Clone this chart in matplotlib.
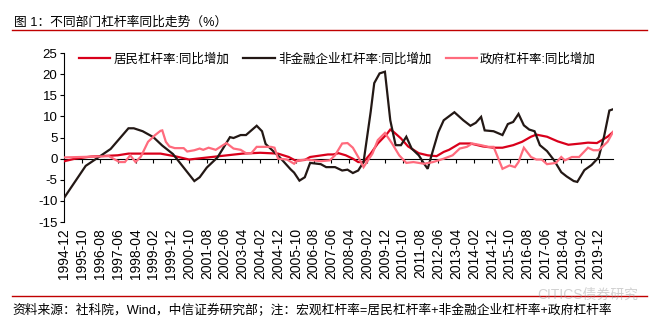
import matplotlib
matplotlib.use("Agg")
import matplotlib.pyplot as plt
from matplotlib.lines import Line2D

plt.rcParams["font.family"] = ["Liberation Sans", "Noto Sans CJK SC", "DejaVu Sans"]
plt.rcParams["axes.unicode_minus"] = False

# ── Data (yoy change in leverage, %) ────────────────────────────────
household_dates = [
    "1994-12", "1995-06", "1996-03", "1997-06", "1997-12", "1999-06", "2000-03",
    "2000-10", "2002-01", "2003-04", "2004-02", "2004-12", "2005-06", "2005-10",
    "2006-03", "2006-06", "2007-04", "2007-07", "2007-10", "2008-02", "2008-06",
    "2008-09", "2008-12", "2009-04", "2009-08", "2010-01", "2010-03", "2010-05",
    "2010-09", "2011-01", "2011-07", "2011-12", "2012-05", "2012-09", "2012-12",
    "2013-06", "2013-12", "2014-07", "2015-01", "2015-06", "2015-12", "2016-05",
    "2016-10", "2017-01", "2017-07", "2018-01", "2018-07", "2019-02", "2019-06",
    "2019-11", "2020-05", "2020-08",
]
household_vals = [
    -0.6, 0.0, 0.5, 0.8, 1.2, 1.2, 0.5,
    -0.2, 0.5, 1.2, 1.4, 1.2, 0.4, -0.5,
    -0.3, 0.4, 1.0, 1.0, 1.3, 0.8, 0.0,
    -0.8, -0.8, 1.2, 3.6, 5.8, 6.9, 6.3,
    4.8, 2.9, 1.3, 0.8, 0.6, 1.6, 2.1,
    3.6, 3.6, 2.9, 2.6, 2.6, 3.2, 4.0,
    5.2, 5.7, 5.2, 4.1, 3.3, 3.6, 3.8,
    3.7, 5.2, 6.3,
]

corporate_dates = [
    "1994-12", "1995-12", "1996-06", "1997-02", "1997-12", "1998-03", "1998-08",
    "1999-02", "1999-07", "2000-01", "2000-07", "2001-01", "2001-04", "2001-08",
    "2002-02", "2002-09", "2002-11", "2003-03", "2003-06", "2003-12", "2004-03",
    "2004-05", "2004-09", "2005-01", "2005-07", "2005-09", "2005-12", "2006-03",
    "2006-06", "2006-12", "2007-03", "2007-08", "2007-12", "2008-03", "2008-06",
    "2008-09", "2008-12", "2009-04", "2009-06", "2009-09", "2009-12", "2010-03",
    "2010-06", "2010-09", "2010-12", "2011-03", "2011-07", "2011-10", "2011-12",
    "2012-03", "2012-06", "2012-09", "2013-03", "2013-08", "2013-12", "2014-03",
    "2014-06", "2014-08", "2015-01", "2015-06", "2015-09", "2015-12", "2016-03",
    "2016-06", "2016-09", "2016-12", "2017-03", "2017-07", "2017-11", "2018-03",
    "2018-06", "2018-10", "2018-12", "2019-04", "2019-08", "2019-12", "2020-03",
    "2020-06", "2020-08",
]
corporate_vals = [
    -9.2, -1.7, 0.0, 2.3, 7.2, 7.2, 6.5,
    5.1, 3.1, 1.1, -2.1, -5.3, -4.4, -2.1,
    0.3, 5.1, 4.9, 5.6, 5.6, 7.8, 6.5,
    3.5, 1.9, 0.3, -2.5, -3.3, -5.2, -4.4,
    -1.0, -1.3, -2.0, -2.0, -2.8, -2.6, -3.4,
    -2.8, -0.8, 11.1, 17.9, 20.2, 20.6, 9.1,
    3.2, 3.2, 5.2, 2.4, 0.8, -1.2, -2.4,
    2.0, 6.3, 9.1, 11.0, 9.1, 7.8, 8.5,
    9.9, 6.7, 6.5, 5.6, 8.2, 8.7, 10.6,
    7.9, 6.9, 6.5, 3.2, 1.8, -0.4, -3.2,
    -4.2, -5.3, -5.5, -2.7, -1.5, 0.3, 5.2,
    11.4, 11.7,
]

government_dates = [
    "1994-12", "1996-06", "1997-01", "1997-07", "1997-10", "1998-01", "1998-04",
    "1998-07", "1998-11", "1999-03", "1999-06", "1999-07", "1999-09", "1999-11",
    "2000-02", "2000-07", "2000-09", "2001-01", "2001-04", "2001-06", "2001-09",
    "2002-01", "2002-07", "2002-11", "2003-03", "2003-06", "2003-09", "2003-12",
    "2004-08", "2004-10", "2004-12", "2005-05", "2005-09", "2005-11", "2006-04",
    "2006-12", "2007-05", "2007-08", "2007-12", "2008-03", "2008-06", "2008-09",
    "2008-12", "2009-05", "2009-08", "2009-12", "2010-04", "2010-08", "2010-12",
    "2011-04", "2011-10", "2012-03", "2012-09", "2013-02", "2013-06", "2013-10",
    "2014-01", "2014-06", "2014-10", "2015-01", "2015-06", "2015-10", "2016-01",
    "2016-03", "2016-06", "2016-10", "2017-01", "2017-04", "2017-07", "2017-12",
    "2018-03", "2018-05", "2018-09", "2019-01", "2019-06", "2019-09", "2019-12",
    "2020-05", "2020-08",
]
government_vals = [
    0.3, 0.5, 0.6, -0.8, -0.8, 0.8, -0.8,
    0.5, 4.0, 5.6, 6.6, 6.7, 4.0, 2.9,
    2.5, 2.5, 1.7, 2.0, 2.4, 2.1, 2.6,
    2.1, 3.7, 2.4, 2.1, 1.3, 1.3, 2.8,
    2.8, 2.6, 0.0, -0.2, -1.2, -0.4, -0.2,
    -0.6, -0.4, 0.8, 3.6, 3.7, 2.6, 0.4,
    -2.0, 1.2, 4.4, 6.1, 3.6, 0.8, -1.0,
    -0.8, -1.2, -0.8, 0.0, 0.8, 2.4, 2.8,
    3.6, 3.2, 2.8, 2.8, -2.4, -1.6, -2.0,
    -0.8, 2.6, 0.4, -0.2, -0.2, -1.3, -1.0,
    0.4, -0.4, 0.4, 0.4, 2.6, 2.0, 2.0,
    4.0, 6.3,
]

tick_labels = [
    "1994-12", "1995-10", "1996-08", "1997-06", "1998-04", "1999-02", "1999-12",
    "2000-10", "2001-08", "2002-06", "2003-04", "2004-02", "2004-12", "2005-10",
    "2006-08", "2007-06", "2008-04", "2009-02", "2009-12", "2010-10", "2011-08",
    "2012-06", "2013-04", "2014-02", "2014-12", "2015-10", "2016-08", "2017-06",
    "2018-04", "2019-02", "2019-12",
]

series_names = ["居民杠杆率:同比增加", "非金融企业杠杆率:同比增加", "政府杠杆率:同比增加"]
series_colors = ["#D9001B", "#231815", "#FF6B7D"]


def month_index(s):
    y, m = s.split("-")
    return (int(y) - 1994) * 12 + int(m) - 12


# ── Figure ───────────────────────────────────────────────────
fig = plt.figure(figsize=(6.57, 3.26), dpi=100)
ax = fig.add_axes([0.0979, 0.319, 0.835, 0.518])

series = [
    (household_dates, household_vals),
    (corporate_dates, corporate_vals),
    (government_dates, government_vals),
]
for (dates, vals), name, color in zip(series, series_names, series_colors):
    ax.plot([month_index(d) for d in dates], vals, color=color, lw=1.6,
            label=name, zorder=3, solid_joinstyle="miter")

ax.set_xlim(0, 308)
ax.set_ylim(-15, 25)
ax.set_yticks(range(-15, 26, 5))
ax.tick_params(axis="y", direction="out", length=3, width=0.8, labelsize=9.5,
               pad=2, colors="black")

ax.spines["top"].set_visible(False)
ax.spines["right"].set_visible(False)
ax.spines["left"].set_linewidth(0.8)
ax.spines["bottom"].set_position(("data", 0))
ax.spines["bottom"].set_linewidth(0.8)

tick_pos = [month_index(t) for t in tick_labels]
ax.set_xticks(tick_pos)
ax.tick_params(axis="x", direction="out", length=3, width=0.8, labelbottom=False)
for pos, lab in zip(tick_pos, tick_labels):
    ax.text(pos, -0.035, lab, transform=ax.get_xaxis_transform(), rotation=90,
            ha="center", va="top", fontsize=10)

fig.legend(loc="center left", bbox_to_anchor=(0.120, 0.818), ncol=3,
           frameon=False, fontsize=9, handlelength=2.5, handletextpad=0.25,
           columnspacing=1.15, borderpad=0, borderaxespad=0)

# ── Title, source and rules ──────────────────────────────────
fig.text(0.0213, 0.931, "图 1：不同部门杠杆率同比走势（%）", fontsize=9.2,
         ha="left", va="center")
fig.add_artist(Line2D([0.019, 0.985], [0.908, 0.908], transform=fig.transFigure,
                      color="#C00000", lw=1))
fig.add_artist(Line2D([0.019, 0.985], [0.092, 0.092], transform=fig.transFigure,
                      color="#C00000", lw=1))
fig.text(0.0195, 0.049,
         "资料来源：社科院，Wind，中信证券研究部；注：宏观杠杆率=居民杠杆率+非金融企业杠杆率+政府杠杆率",
         fontsize=9.2, ha="left", va="center")
fig.text(0.972, 0.097, "CITICS债券研究", fontsize=10, ha="right", va="center",
         color="#9a9a9a", alpha=0.45)

fig.savefig("out.png", dpi=100)
